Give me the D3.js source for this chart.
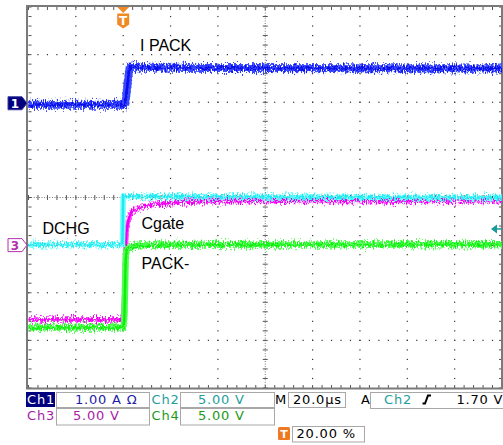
<!DOCTYPE html>
<html>
<head>
<meta charset="utf-8">
<script src="https://cdn.jsdelivr.net/npm/d3@7"></script>
<style>
  html, body { margin: 0; padding: 0; background: #fff; }
  svg { display: block; }
  .lbl { font-family: "Liberation Sans", Arial, sans-serif; font-size: 16px; fill: #000; }
  .ro { font-family: "DejaVu Sans", Verdana, sans-serif; font-size: 13px; letter-spacing: 0.8px; }
</style>
</head>
<body>
<svg id="scope" width="503" height="445"></svg>
<script>
// Timebase: 20 µs/div, 10 divisions, trigger placed at 20 % of the record
const timeRange = [-40, 160];
const divRange = [-4, 4];

// Channel settings
const channelNames = ["Ch1", "Ch2", "Ch3", "Ch4"];
const channelScaleText = ["1.00 A \u03A9", "5.00 V", "5.00 V", "5.00 V"];
const channelPerDiv = [1, 5, 5, 5];      // A/div or V/div
const channelPosition = [2, -1, -1, -1]; // ground position in divisions

// Ch1 – I PACK (A)
const ipackTime  = [-40, 0.7, 1.2, 1.8, 2.4, 2.9, 7, 40, 160];
const ipackValue = [-0.05, -0.05, 0.1, 0.36, 0.65, 0.75, 0.73, 0.72, 0.71];

// Ch2 – DCHG (V)
const dchgTime  = [-40, -0.3, 0.0, 5, 160];
const dchgValue = [0.05, 0.05, 5.1, 5.1, 4.98];

// Ch3 – Cgate (V)
const cgateTime  = [-40, -0.3, 0.1, 0.6, 1.0, 1.4, 2.0, 2.9, 4.1, 5.8, 8.4, 11.3, 16.8, 24, 32.4, 53.6, 160];
const cgateValue = [-7.8, -7.8, -7.4, -4.7, -0.5, 1.4, 2.4, 3.2, 3.6, 3.8, 4.05, 4.2, 4.35, 4.5, 4.6, 4.65, 4.65];

// Ch4 – PACK- (V)
const packTime  = [-40, 0.0, 0.46, 0.76, 1.06, 1.39, 2.15, 3.7, 11.3, 160];
const packValue = [-8.65, -8.65, -7.86, -4.71, -1.35, -0.62, -0.3, -0.1, 0.05, 0.08];

// Readout values
const timebaseText = "20.0\u00B5s";
const triggerSource = "Ch2";
const triggerLevel = 1.70;
const triggerLevelText = "1.70 V";
const triggerPosText = "20.00 %";

const svg = d3.select("#scope");

const x = d3.scaleLinear().domain(timeRange).range([28.5, 502]);
const yDiv = d3.scaleLinear().domain(divRange).range([388, 7]);
const yCh = (ch, v) => yDiv(channelPosition[ch] + v / channelPerDiv[ch]);

// ---------- graticule ----------
const grid = svg.append("g");
const majorT = d3.range(timeRange[0], timeRange[1] + 0.001, 20);
const minorT = d3.range(timeRange[0], timeRange[1] + 0.001, 4);
const majorD = d3.range(divRange[0], divRange[1] + 0.001, 1);
const minorD = d3.range(divRange[0], divRange[1] + 0.001, 0.2);
const centerT = 60;

// dotted division lines
majorT.slice(1, -1).filter(t => t !== centerT).forEach(t => {
  grid.selectAll(null).data(minorD).join("rect")
    .attr("x", x(t) - 0.6).attr("y", d => yDiv(d) - 0.6)
    .attr("width", 1.2).attr("height", 1.2).attr("fill", "#333");
});
majorD.slice(1, -1).filter(d => d !== 0).forEach(d => {
  grid.selectAll(null).data(minorT).join("rect")
    .attr("x", t => x(t) - 0.6).attr("y", yDiv(d) - 0.6)
    .attr("width", 1.2).attr("height", 1.2).attr("fill", "#333");
});

// centre axes with minor ticks
grid.append("line")
  .attr("x1", x(centerT)).attr("x2", x(centerT)).attr("y1", yDiv(-4)).attr("y2", yDiv(4))
  .attr("stroke", "#777").attr("stroke-width", 1).attr("stroke-dasharray", "1 1.6");
grid.append("line")
  .attr("x1", x(timeRange[0])).attr("x2", x(timeRange[1])).attr("y1", yDiv(0)).attr("y2", yDiv(0))
  .attr("stroke", "#777").attr("stroke-width", 1).attr("stroke-dasharray", "1 1.6");
grid.selectAll(null).data(minorD).join("line")
  .attr("x1", x(centerT) - 2.5).attr("x2", x(centerT) + 2.5)
  .attr("y1", d => yDiv(d)).attr("y2", d => yDiv(d))
  .attr("stroke", "#555").attr("stroke-width", 1);
grid.selectAll(null).data(minorT).join("line")
  .attr("y1", yDiv(0) - 2.5).attr("y2", yDiv(0) + 2.5)
  .attr("x1", t => x(t)).attr("x2", t => x(t))
  .attr("stroke", "#555").attr("stroke-width", 1);

// frame ticks
[yDiv(4), yDiv(-4)].forEach((yy, i) => {
  const dir = i === 0 ? 1 : -1;
  grid.selectAll(null).data(minorT).join("line")
    .attr("x1", t => x(t)).attr("x2", t => x(t))
    .attr("y1", yy).attr("y2", yy + dir * 3)
    .attr("stroke", "#555").attr("stroke-width", 1);
});
[x(timeRange[0]), x(timeRange[1])].forEach((xx, i) => {
  const dir = i === 0 ? 1 : -1;
  grid.selectAll(null).data(minorD).join("line")
    .attr("y1", d => yDiv(d)).attr("y2", d => yDiv(d))
    .attr("x1", xx).attr("x2", xx + dir * 3)
    .attr("stroke", "#555").attr("stroke-width", 1);
});

// frame
svg.append("rect")
  .attr("x", 27).attr("y", 6).attr("width", 475).attr("height", 382.5)
  .attr("fill", "none").attr("stroke", "#7a7a7a").attr("stroke-width", 2);

// ---------- traces ----------
const defs = svg.append("defs");
const flt = defs.append("filter").attr("id", "acqNoise")
  .attr("filterUnits", "userSpaceOnUse")
  .attr("x", 0).attr("y", 0).attr("width", 503).attr("height", 445);
flt.append("feTurbulence").attr("type", "fractalNoise")
  .attr("baseFrequency", "1.1 0.35").attr("numOctaves", 2).attr("seed", 7).attr("result", "turb");
flt.append("feColorMatrix").attr("in", "turb").attr("type", "matrix")
  .attr("values", "0 0 0 0 0.5  0 1 0 0 0  0 0 0 0 0  0 0 0 0 1").attr("result", "disp");
flt.append("feDisplacementMap").attr("in", "SourceGraphic").attr("in2", "disp")
  .attr("scale", 12).attr("xChannelSelector", "R").attr("yChannelSelector", "G");

const traces = [
  { ch: 2, t: cgateTime, v: cgateValue, band: "#ff50ff", core: "#f000f0", w: 5 },
  { ch: 1, t: dchgTime,  v: dchgValue,  band: "#70ffff", core: "#20e8f0", w: 5.5 },
  { ch: 3, t: packTime,  v: packValue,  band: "#50ff50", core: "#10ee10", w: 6.5 },
  { ch: 0, t: ipackTime, v: ipackValue, band: "#3848ff", core: "#0808e8", w: 8 }
];
const traceG = svg.append("g");
traces.forEach(tr => {
  const pts = tr.t.map((t, i) => [t, tr.v[i]]);
  const line = d3.line().x(d => x(d[0])).y(d => yCh(tr.ch, d[1]));
  traceG.append("path").attr("d", line(pts))
    .attr("fill", "none").attr("stroke", tr.band).attr("stroke-width", tr.w)
    .attr("stroke-linejoin", "round").attr("filter", "url(#acqNoise)");
  traceG.append("path").attr("d", line(pts))
    .attr("fill", "none").attr("stroke", tr.core).attr("stroke-width", 2.4)
    .attr("stroke-linejoin", "round").attr("filter", "url(#acqNoise)");
});

// ---------- signal labels ----------
svg.append("text").attr("class", "lbl").attr("x", 140).attr("y", 50.5).text("I PACK");
svg.append("text").attr("class", "lbl").attr("x", 42.5).attr("y", 234).text("DCHG");
svg.append("text").attr("class", "lbl").attr("x", 141.5).attr("y", 229.3).text("Cgate");
svg.append("text").attr("class", "lbl").attr("x", 141.5).attr("y", 269.3).text("PACK-");

// ---------- channel ground markers ----------
function marker(yy, fill, stroke, txt, txtColor) {
  const g = svg.append("g");
  g.append("path")
    .attr("d", `M8,${yy - 6.5} H22 L27,${yy} L22,${yy + 6.5} H8 Z`)
    .attr("fill", fill).attr("stroke", stroke).attr("stroke-width", 1);
  g.append("text").attr("x", 15).attr("y", yy + 4.5).attr("text-anchor", "middle")
    .attr("font-family", "DejaVu Sans, sans-serif").attr("font-size", 12)
    .attr("font-weight", "bold").attr("fill", txtColor).text(txt);
}
marker(yCh(0, 0) + 1, "#00007f", "#3a3aa0", "1", "#fff");
marker(yCh(2, 0), "#fff", "#b030b0", "3", "#b030b0");

// trigger level arrow (right edge)
const yTrig = yCh(1, triggerLevel);
svg.append("path")
  .attr("d", `M491,${yTrig} L497,${yTrig - 4.5} L497,${yTrig + 4.5} Z`).attr("fill", "#1a9a9a");
svg.append("line").attr("x1", 497).attr("x2", 502).attr("y1", yTrig).attr("y2", yTrig)
  .attr("stroke", "#1a9a9a").attr("stroke-width", 1.5);

// trigger position marker (top)
const xTrig = x(0);
svg.append("path")
  .attr("d", `M${xTrig - 6},7 H${xTrig + 6} L${xTrig},13 Z`).attr("fill", "#f08a24");
svg.append("path")
  .attr("d", `M${xTrig - 6},13.5 H${xTrig + 6} V24.5 L${xTrig},28.5 L${xTrig - 6},24.5 Z`)
  .attr("fill", "#f08a24");
svg.append("text").attr("x", xTrig).attr("y", 24.5).attr("text-anchor", "middle")
  .attr("font-family", "DejaVu Sans, sans-serif").attr("font-size", 12).attr("font-weight", "bold")
  .attr("fill", "#fff").text("T");

// ---------- readout ----------
const ro = svg.append("g");
const box = (x0, y0, w, h) => ro.append("rect").attr("x", x0 + 0.5).attr("y", y0 + 0.5)
  .attr("width", w).attr("height", h).attr("fill", "#fff").attr("stroke", "#a8a8a8");
const txt = (x0, y0, s, c) => ro.append("text").attr("class", "ro")
  .attr("x", x0).attr("y", y0).attr("fill", c).text(s);

const chColor = ["#1c1ca8", "#1e9e9e", "#a81ca8", "#1a9a1a"];

// row 1
ro.append("rect").attr("x", 26).attr("y", 392).attr("width", 29).attr("height", 15).attr("fill", "#00007f");
txt(27, 403.5, channelNames[0], "#fff");
box(56, 392, 93, 15);
txt(75, 403.5, channelScaleText[0], chColor[0]);
txt(151.5, 403.5, channelNames[1], chColor[1]);
box(180, 392, 94, 15);
txt(198, 403.5, channelScaleText[1], chColor[1]);
txt(275, 403.5, "M", "#000");
box(288, 392, 57, 15);
txt(293, 403.5, timebaseText, "#000");
txt(361, 403.5, "A", "#000");
box(370, 392, 140, 16);
txt(384, 403.5, triggerSource, chColor[1]);
ro.append("path").attr("d", "M422.5,403.5 H425 L428,395.5 H431")
  .attr("fill", "none").attr("stroke", "#000").attr("stroke-width", 2);
txt(456.5, 403.5, triggerLevelText, "#000");

// row 2
txt(27, 420, channelNames[2], chColor[2]);
box(56, 408, 93, 16.5);
txt(73, 420, channelScaleText[2], chColor[2]);
txt(151.5, 420, channelNames[3], chColor[3]);
box(180, 408, 94, 16.5);
txt(198, 420, channelScaleText[3], chColor[3]);

// row 3
ro.append("rect").attr("x", 278).attr("y", 427).attr("width", 12).attr("height", 13)
  .attr("rx", 1.5).attr("fill", "#f07820");
ro.append("text").attr("x", 284).attr("y", 438).attr("text-anchor", "middle")
  .attr("font-family", "DejaVu Sans, sans-serif").attr("font-size", 11).attr("font-weight", "bold")
  .attr("fill", "#fff").text("T");
box(292, 426, 72, 15.5);
txt(296.5, 438.3, triggerPosText, "#000");
</script>
</body>
</html>
